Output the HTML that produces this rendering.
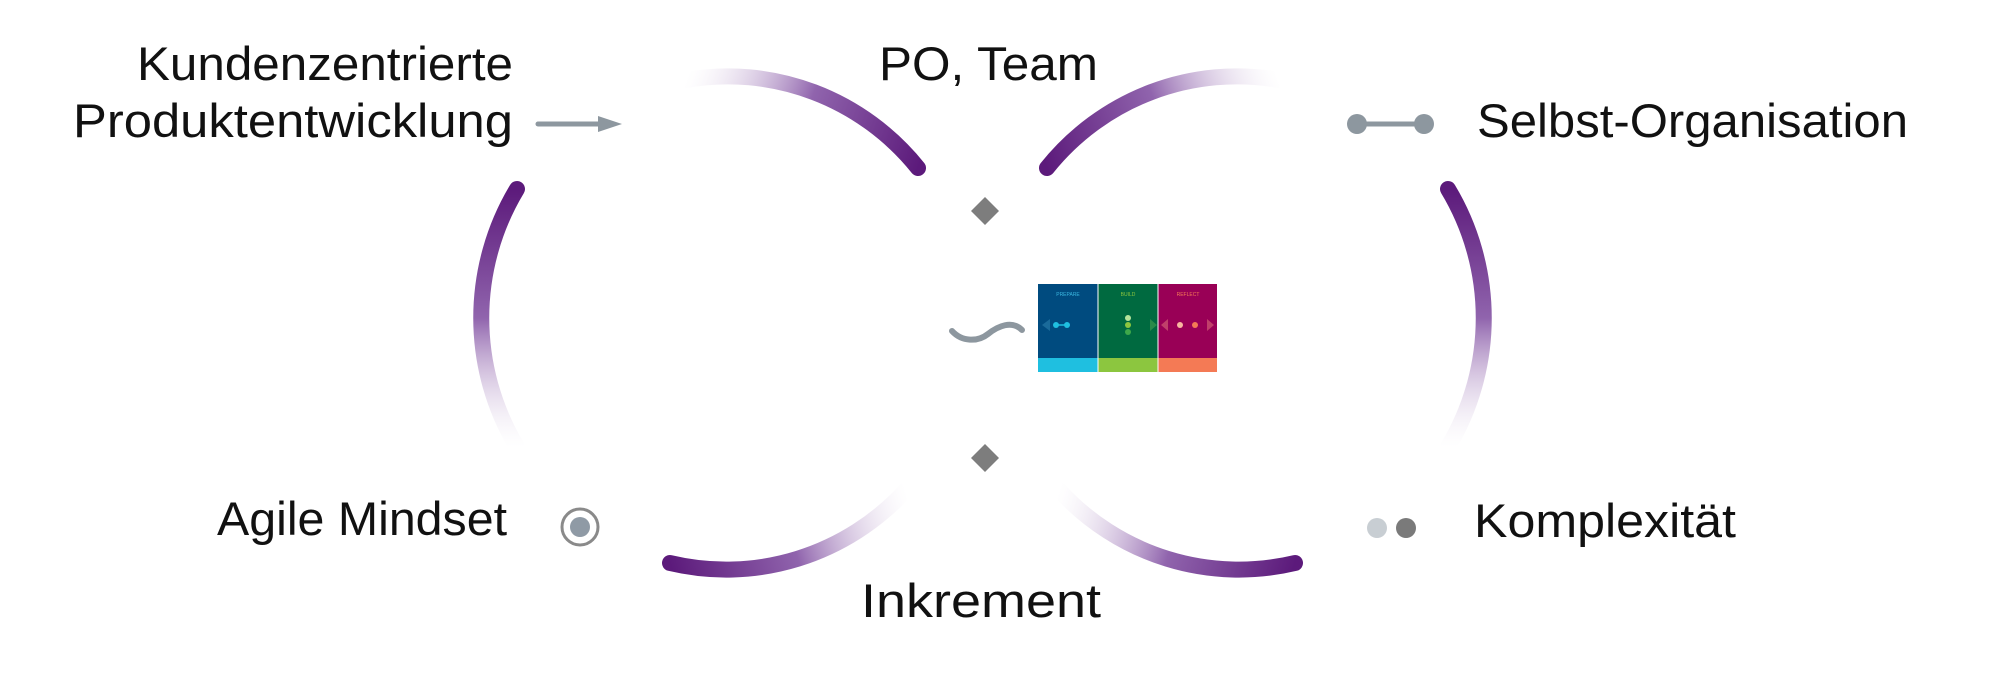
<!DOCTYPE html>
<html><head><meta charset="utf-8"><style>
html,body{margin:0;padding:0;background:#fff;}
svg{display:block;}
text{font-family:"Liberation Sans",sans-serif;fill:#111;}
</style></head><body>
<svg width="1996" height="674" viewBox="0 0 1996 674" xmlns="http://www.w3.org/2000/svg">
<defs>
<linearGradient id="g1" gradientUnits="userSpaceOnUse" x1="918" y1="168" x2="686" y2="80"><stop offset="0" stop-color="#5c1a7b"/><stop offset="0.5" stop-color="#9064ad"/><stop offset="1" stop-color="#ffffff" stop-opacity="0.2"/></linearGradient>
<linearGradient id="g2" gradientUnits="userSpaceOnUse" x1="517" y1="189" x2="517" y2="447"><stop offset="0" stop-color="#5c1a7b"/><stop offset="0.5" stop-color="#9064ad"/><stop offset="1" stop-color="#ffffff" stop-opacity="0.2"/></linearGradient>
<linearGradient id="g3" gradientUnits="userSpaceOnUse" x1="670" y1="563" x2="906" y2="490"><stop offset="0" stop-color="#5c1a7b"/><stop offset="0.5" stop-color="#9064ad"/><stop offset="1" stop-color="#ffffff" stop-opacity="0.2"/></linearGradient>
<linearGradient id="g4" gradientUnits="userSpaceOnUse" x1="1047" y1="168" x2="1279" y2="80"><stop offset="0" stop-color="#5c1a7b"/><stop offset="0.5" stop-color="#9064ad"/><stop offset="1" stop-color="#ffffff" stop-opacity="0.2"/></linearGradient>
<linearGradient id="g5" gradientUnits="userSpaceOnUse" x1="1448" y1="189" x2="1448" y2="447"><stop offset="0" stop-color="#5c1a7b"/><stop offset="0.5" stop-color="#9064ad"/><stop offset="1" stop-color="#ffffff" stop-opacity="0.2"/></linearGradient>
<linearGradient id="g6" gradientUnits="userSpaceOnUse" x1="1295" y1="563" x2="1059" y2="490"><stop offset="0" stop-color="#5c1a7b"/><stop offset="0.5" stop-color="#9064ad"/><stop offset="1" stop-color="#ffffff" stop-opacity="0.2"/></linearGradient>
</defs>
<g fill="none" stroke-width="16" stroke-linecap="round">
<path d="M686 80 A245 248 0 0 1 918 168" stroke="url(#g1)"/>
<path d="M517 189 A245 248 0 0 0 517 447" stroke="url(#g2)"/>
<path d="M670 563 A245 248 0 0 0 906 490" stroke="url(#g3)"/>
<path d="M1279 80 A245 248 0 0 0 1047 168" stroke="url(#g4)"/>
<path d="M1448 189 A245 248 0 0 1 1448 447" stroke="url(#g5)"/>
<path d="M1295 563 A245 248 0 0 1 1059 490" stroke="url(#g6)"/>
</g>
<text x="137" y="80" font-size="47" textLength="376" lengthAdjust="spacingAndGlyphs">Kundenzentrierte</text>
<text x="73" y="137" font-size="47" textLength="440" lengthAdjust="spacingAndGlyphs">Produktentwicklung</text>
<text x="879" y="80" font-size="47" textLength="219" lengthAdjust="spacingAndGlyphs">PO, Team</text>
<text x="1477" y="137" font-size="47" textLength="431" lengthAdjust="spacingAndGlyphs">Selbst-Organisation</text>
<text x="217" y="535" font-size="47" textLength="290" lengthAdjust="spacingAndGlyphs">Agile Mindset</text>
<text x="1474" y="537" font-size="47" textLength="262" lengthAdjust="spacingAndGlyphs">Komplexität</text>
<text x="861" y="617" font-size="47" textLength="240" lengthAdjust="spacingAndGlyphs">Inkrement</text>
<line x1="538" y1="124" x2="602" y2="124" stroke="#8d979f" stroke-width="5" stroke-linecap="round"/>
<polygon points="598,116 622,124 598,132" fill="#8d979f"/>
<line x1="1355" y1="124" x2="1425" y2="124" stroke="#8d979f" stroke-width="5"/>
<circle cx="1357" cy="124" r="10" fill="#8d979f"/>
<circle cx="1424" cy="124" r="10" fill="#8d979f"/>
<circle cx="580" cy="527" r="18" fill="none" stroke="#8a8a8a" stroke-width="3"/>
<circle cx="580" cy="527" r="10" fill="#8f9aa5"/>
<circle cx="1377" cy="528" r="10" fill="#c8ced3"/>
<circle cx="1406" cy="528" r="10" fill="#7a7a7a"/>
<polygon points="985,197 999,211 985,225 971,211" fill="#7d7d7d"/>
<polygon points="985,444 999,458 985,472 971,458" fill="#7d7d7d"/>
<path d="M952 331 C962 342 978 342 988 334 C998 326 1012 320 1022 330" fill="none" stroke="#8d979f" stroke-width="6" stroke-linecap="round"/>
<rect x="1038" y="284" width="60" height="74" fill="#004b7f"/>
<rect x="1098" y="284" width="60" height="74" fill="#006a40"/>
<rect x="1158" y="284" width="59" height="74" fill="#990056"/>
<rect x="1038" y="358" width="60" height="14" fill="#1fbfe0"/>
<rect x="1098" y="358" width="60" height="14" fill="#8cc63f"/>
<rect x="1158" y="358" width="59" height="14" fill="#f47a55"/>
<line x1="1098" y1="284" x2="1098" y2="372" stroke="#fff" stroke-width="1"/>
<line x1="1158" y1="284" x2="1158" y2="372" stroke="#fff" stroke-width="1"/>
<text x="1068" y="296" font-size="5" text-anchor="middle" style="fill:#3ab7e0">PREPARE</text>
<text x="1128" y="296" font-size="5" text-anchor="middle" style="fill:#8cc63f">BUILD</text>
<text x="1188" y="296" font-size="5" text-anchor="middle" style="fill:#f47a55">REFLECT</text>
<circle cx="1056" cy="325" r="3" fill="#1fbfe0"/><circle cx="1067" cy="325" r="3" fill="#1fbfe0"/>
<line x1="1056" y1="325" x2="1067" y2="325" stroke="#1fbfe0" stroke-width="1.5"/>
<polygon points="1042,325 1050,319 1050,331" fill="#1a6a9a"/>
<circle cx="1128" cy="318" r="3" fill="#b5e39a"/><circle cx="1128" cy="325" r="3" fill="#8cc63f"/><circle cx="1128" cy="332" r="3" fill="#3ea84a"/>
<polygon points="1150,319 1157,325 1150,331" fill="#2a8a4a"/>
<circle cx="1180" cy="325" r="3" fill="#f8b7a0"/><circle cx="1195" cy="325" r="3" fill="#f47a55"/>
<polygon points="1168,319 1161,325 1168,331" fill="#c0406a"/>
<polygon points="1207,319 1214,325 1207,331" fill="#c0406a"/>
</svg>
</body></html>
